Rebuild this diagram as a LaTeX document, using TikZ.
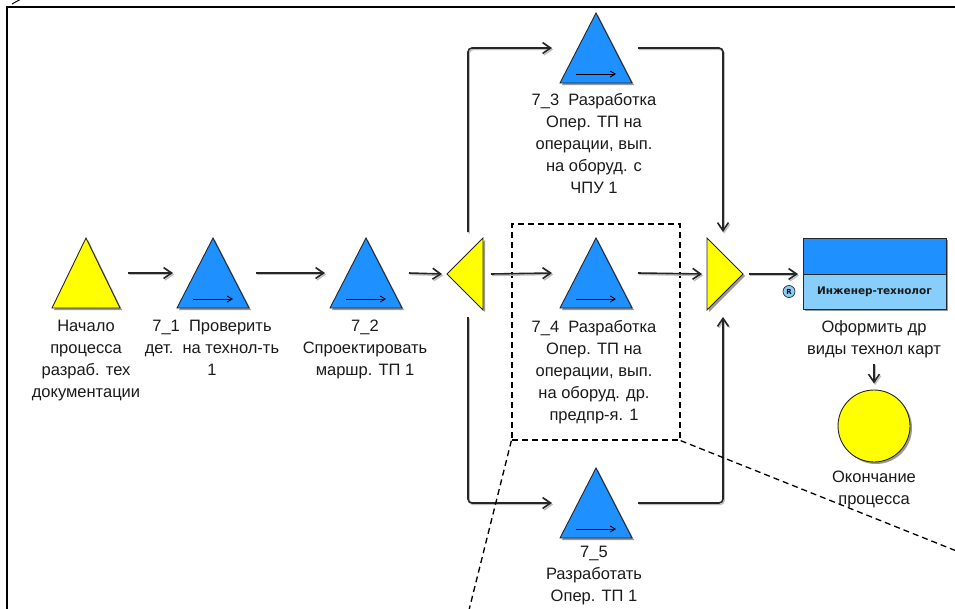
\documentclass[tikz,border=0pt]{standalone}
\usepackage{fontspec}
\setmainfont{Liberation Sans}
\newfontfamily\rolefont{DejaVu Sans}
\usetikzlibrary{shapes.geometric,arrows.meta,calc,shadows}
\definecolor{taskblue}{HTML}{1E90FF}
\definecolor{roleblue}{HTML}{87CEFA}
\definecolor{evyellow}{HTML}{FFFF00}
\definecolor{txt}{HTML}{1A1A1A}
\begin{document}
\begin{tikzpicture}[x=1pt,y=-1pt,
  shapeshadow/.style={drop shadow={shadow xshift=2pt,shadow yshift=-2pt,fill=black!40,opacity=1}},
  tri/.style={isosceles triangle, isosceles triangle stretches, shape border rotate=90,
    minimum width=72pt, minimum height=70pt, inner sep=0pt, outer sep=0pt,
    draw=black!85, line width=0.9pt, shapeshadow},
  task/.style={tri, fill=taskblue},
  startev/.style={tri, fill=evyellow, minimum width=68pt},
  gate/.style={isosceles triangle, isosceles triangle stretches,
    minimum width=72pt, minimum height=36pt, inner sep=0pt, outer sep=0pt,
    draw=black!85, line width=0.9pt, fill=evyellow, shapeshadow},
  lbl/.style={font=\fontsize{16.5}{22}\selectfont, text=txt, align=center, anchor=north, inner sep=0pt},
  conn/.style={line width=1.6pt, draw=black!85, rounded corners=4pt,
    -{Straight Barb[length=8pt,width=11pt]},
    preaction={draw=black!25, line width=1.4pt, transform canvas={shift={(1.2pt,-1.5pt)}}}},
  inarr/.style={line width=0.9pt, draw=black, -{Straight Barb[length=5pt,width=6pt]}},
  dashline/.style={line width=1.3pt, dash pattern=on 6pt off 4pt}
]
\useasboundingbox (0,0) rectangle (955,608);
\clip (0,0) rectangle (955,608);

% frame
\draw[line width=1.8pt] (7,700) -- (7,7) -- (1000,7);
\draw[line width=1pt] (12,4) -- (21,-1);

% dashed detail box
\node[draw, dashline, minimum width=168pt, minimum height=216pt, inner sep=0pt] (zoombox) at (596,332) {};

% events and functions
\node[startev, anchor=south] (start) at (86,308) {};
\node[task, anchor=south] (t1) at (213,308) {};
\node[task, anchor=south] (t2) at (366,308) {};
\node[task, anchor=south] (t3) at (596,83) {};
\node[task, anchor=south] (t4) at (596,308) {};
\node[task, anchor=south] (t5) at (596,538) {};
\node[gate, shape border rotate=180, anchor=apex] (split) at (447,274) {};
\node[gate, shape border rotate=0, anchor=apex] (join) at (743,274) {};

\foreach \t in {t1,t2,t3,t4,t5}{
  \draw[inarr] ($(\t.south)+(-20,-9)$) -- ($(\t.south)+(20,-9)$);
}

\coordinate (m0) at ($(start.south)!.5!(start.apex)$);
\coordinate (m1) at ($(t1.south)!.5!(t1.apex)$);
\coordinate (m2) at ($(t2.south)!.5!(t2.apex)$);
\coordinate (m3) at ($(t3.south)!.5!(t3.apex)$);
\coordinate (m4) at ($(t4.south)!.5!(t4.apex)$);
\coordinate (m5) at ($(t5.south)!.5!(t5.apex)$);

% role box
\node[draw=black!85, line width=1pt, fill=taskblue, minimum width=143pt, minimum height=71pt,
  inner sep=0pt, outer sep=0pt, shapeshadow,
  path picture={\fill[roleblue] (path picture bounding box.south west) rectangle ($(path picture bounding box.east)+(0,0.5)$);
    \draw[line width=1pt,black!85] ($(path picture bounding box.west)+(0,0.5)$) -- ($(path picture bounding box.east)+(0,0.5)$);}]
  (role) at (874.5,273.5) {};
\node[font=\rolefont\bfseries\fontsize{10.5}{12}\selectfont, text=txt, inner sep=0pt] (roletext) at ($(role.center)+(0,18)$) {Инженер-технолог};
\node[circle, draw=black!85, line width=0.7pt, fill=roleblue, inner sep=0pt, minimum size=12pt,
  font=\rolefont\bfseries\fontsize{7}{7}\selectfont] (rmark) at ($(role.west)+(-14,18)$) {R};

% end event
\node[circle, draw=black!85, line width=0.9pt, fill=evyellow, minimum size=72pt, inner sep=0pt, shapeshadow] (endc) at (874,426) {};

% labels
\node[lbl] (lstart) at (86,320) {Начало\\процесса\\разраб. тех\\документации};
\node[lbl] (l1) at (212,320) {7\_1~~Проверить\\дет.~~на технол-ть\\1};
\node[lbl] (l2) at (365,320) {7\_2\\Спроектировать\\маршр. ТП 1};
\node[lbl] (l3) at (594,93) {7\_3~~Разработка\\Опер. ТП на\\операции, вып.\\на оборуд. с\\ЧПУ 1};
\node[lbl] (l4) at (594,320) {7\_4~~Разработка\\Опер. ТП на\\операции, вып.\\на оборуд. др.\\предпр-я. 1};
\node[lbl] (l5) at (594,546) {7\_5\\Разработать\\Опер. ТП 1};
\node[lbl] (lrole) at (874,320) {Оформить др\\виды технол карт};
\node[lbl] (lend) at (874,471) {Окончание\\процесса};

% connectors
\draw[conn] ($(m0)+(42,0)$) -- ($(m1)+(-40,0)$);
\draw[conn] ($(m1)+(43,0)$) -- ($(m2)+(-41,0)$);
\draw[conn] ($(m2)+(43,0)$) -- ($(split.apex)+(-5,0)$);
\draw[conn] ($(split.apex)+(44,0)$) -- ($(m4)+(-44,0)$);
\draw[conn] ($(split.apex)+(21,-42)$) |- ($(m3)+(-44,0)$);
\draw[conn] ($(split.apex)+(21,43)$) |- ($(m5)+(-44,0)$);
\draw[conn] ($(m3)+(42,0)$) -| ($(join.apex)+(-20,-42)$);
\draw[conn] ($(m4)+(42,0)$) -- ($(join.apex)+(-41,0)$);
\draw[conn] ($(m5)+(42,0)$) -| ($(join.apex)+(-20,43)$);
\draw[conn] ($(join.apex)+(6,0)$) -- ($(join.apex -| role.west)+(-5,0)$);
\draw[conn] ([yshift=-6pt]lrole.south) -- ([yshift=6pt]endc.north);

% dashed leader lines
\draw[dashline] (zoombox.south west) -- ($(zoombox.south west)+(-50,200)$);
\draw[dashline] (zoombox.south east) -- ($(zoombox.south east)+(350,140)$);
\end{tikzpicture}
\end{document}
